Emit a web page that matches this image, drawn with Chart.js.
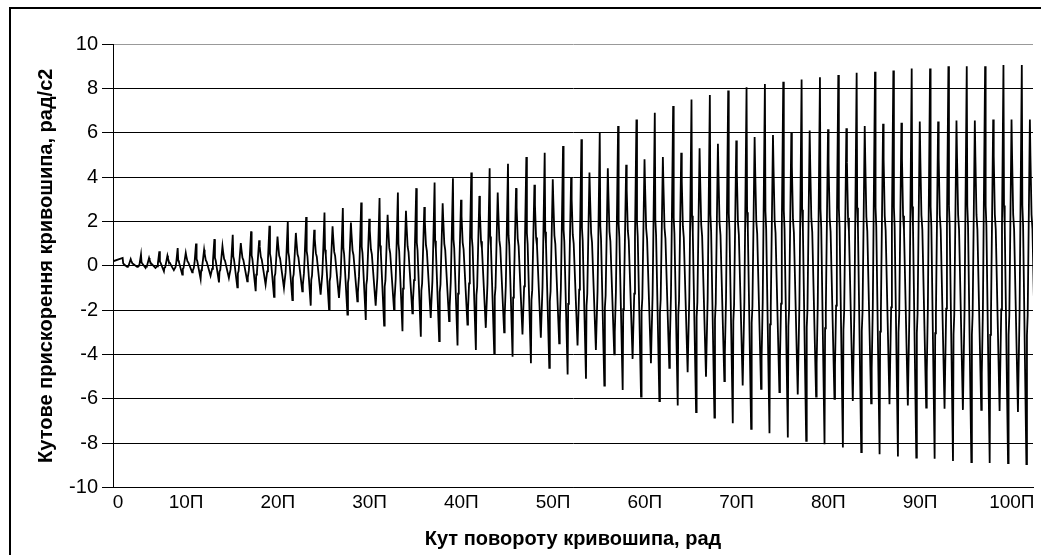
<!DOCTYPE html>
<html>
<head>
<meta charset="utf-8">
<script src="https://cdn.jsdelivr.net/npm/chart.js@4.4.1/dist/chart.umd.min.js"></script>
<style>
  html, body { margin: 0; padding: 0; background: #fff; }
  #wrap { position: relative; width: 1041px; height: 555px; }
  #frame { position: absolute; left: 9px; top: 7px; width: 1040px; height: 560px; border-left: 2px solid #000; border-top: 2px solid #000; box-sizing: border-box; pointer-events: none; }
</style>
</head>
<body>
<div id="wrap">
  <canvas id="c" width="1041" height="555"></canvas>
  <div id="frame"></div>
</div>
<script>
// ---- data (one value per crank revolution, 2π) ----
const tallTop = [0.35,0.5,0.65,0.8,1.0,1.2,1.4,1.55,1.8,2.0,
                 2.2,2.4,2.6,2.85,3.05,3.3,3.5,3.75,3.95,4.2,
                 4.4,4.6,4.9,5.1,5.4,5.7,6.0,6.3,6.6,6.9,
                 7.2,7.5,7.7,7.9,8.05,8.2,8.3,8.4,8.5,8.6,
                 8.7,8.75,8.8,8.9,8.9,9.0,9.0,9.0,9.05,9.05];
const secTop  = [0.3,0.35,0.45,0.58,0.72,0.88,1.02,1.15,1.32,1.48,
                 1.62,1.78,1.95,2.12,2.3,2.48,2.65,2.82,2.98,3.15,
                 3.3,3.5,3.65,3.9,4.0,4.2,4.4,4.55,4.8,4.9,
                 5.1,5.3,5.5,5.65,5.8,5.9,6.0,6.1,6.15,6.2,
                 6.3,6.4,6.45,6.5,6.5,6.55,6.55,6.6,6.6,6.6];
const tallBot = [-0.05,-0.1,-0.25,-0.4,-0.6,-0.75,-0.97,-1.15,-1.4,-1.55,
                 -1.8,-2.0,-2.2,-2.45,-2.7,-2.95,-3.2,-3.4,-3.6,-3.8,
                 -3.95,-4.1,-4.4,-4.6,-4.9,-5.1,-5.4,-5.6,-5.9,-6.1,
                 -6.3,-6.6,-6.85,-7.1,-7.35,-7.55,-7.75,-7.9,-8.05,-8.2,
                 -8.4,-8.5,-8.6,-8.65,-8.7,-8.8,-8.85,-8.9,-8.9,-8.95];
const secBot  = [-0.05,-0.1,-0.2,-0.3,-0.45,-0.55,-0.7,-0.85,-1.0,-1.15,
                 -1.3,-1.45,-1.6,-1.8,-2.0,-2.15,-2.35,-2.5,-2.65,-2.8,
                 -3.0,-3.1,-3.25,-3.5,-3.6,-3.8,-4.0,-4.2,-4.4,-4.6,
                 -4.8,-5.0,-5.2,-5.4,-5.55,-5.7,-5.8,-5.9,-6.0,-6.1,
                 -6.2,-6.25,-6.3,-6.4,-6.45,-6.5,-6.5,-6.55,-6.6,-6.6];
const startValue = 0.2;
const xTickLabels = ['0','10П','20П','30П','40П','50П','60П','70П','80П','90П','100П'];
const xTickValues = [0.54, 7.96, 17.96, 27.96, 37.96, 47.96, 57.96, 67.96, 77.96, 87.96, 97.96];
const yTitle = 'Кутове прискорення кривошипа, рад/с2';
const xTitle = 'Кут повороту кривошипа, рад';

// ---- build the trace (x in units of π, one revolution = 2π) ----
// each revolution: tall peak, tall trough, secondary peak, secondary trough,
// with the short shoulders the curve shows on its steep flanks
const period = 2, firstPeak = 1.05;
const pts = [{x: 0, y: startValue}];
for (let k = 0; k < tallTop.length; k++) {
  const x0 = firstPeak + period * k;
  const A = tallTop[k], a = tallBot[k], B = secTop[k], b = secBot[k];
  const seq = [
    [0.00, A], [0.03, A * 0.3], [0.07, A * 0.2],
    [0.25, a], [0.28, a * 0.35], [0.32, a * 0.25],
    [0.44, B], [0.47, B * 0.75], [0.53, B * 0.35], [0.58, B * 0.25],
    [0.79, b], [0.82, b * 0.75], [0.88, b * 0.3], [0.92, A * 0.2]
  ];
  seq.forEach(([f, v]) => pts.push({x: x0 + f * period, y: v}));
}

const FONT = "'Liberation Sans', Arial, sans-serif";
new Chart(document.getElementById('c'), {
  type: 'line',
  data: { datasets: [{ data: pts, borderColor: '#000', borderWidth: 1.8, pointRadius: 0, tension: 0, fill: false }] },
  options: {
    responsive: false, animation: false, events: [],
    layout: { padding: { top: 44, right: 8, left: 0, bottom: 0 } },
    plugins: { legend: { display: false }, tooltip: { enabled: false } },
    scales: {
      x: {
        type: 'linear', min: 0, max: 100.27,
        afterBuildTicks: s => { s.ticks = xTickValues.map(v => ({value: v})); },
        afterFit: s => { s.height = 67.5; s.paddingLeft = 0; s.paddingRight = 0; },
        grid: { display: false, drawTicks: false },
        border: { display: true, color: '#000', width: 1 },
        ticks: { autoSkip: false, maxRotation: 0, color: '#000', padding: 4,
                 font: { family: FONT, size: 19 },
                 callback: (v, i) => xTickLabels[i] },
        title: { display: true, text: xTitle, color: '#000', padding: { top: 6 },
                 font: { family: FONT, size: 20, weight: 'bold' } }
      },
      y: {
        min: -10, max: 10,
        ticks: { stepSize: 2, color: '#000', padding: 4, font: { family: FONT, size: 20 } },
        afterFit: s => { s.width = 113; },
        grid: { color: c => (c.tick && c.tick.value === 10) ? '#999' : '#000', lineWidth: 1, tickLength: 11, tickColor: '#000' },
        border: { display: true, color: '#000', width: 1 },
        title: { display: true, text: yTitle, color: '#000', padding: { top: 34, bottom: 0 },
                 font: { family: FONT, size: 20, weight: 'bold' } }
      }
    }
  }
});
</script>
</body>
</html>
